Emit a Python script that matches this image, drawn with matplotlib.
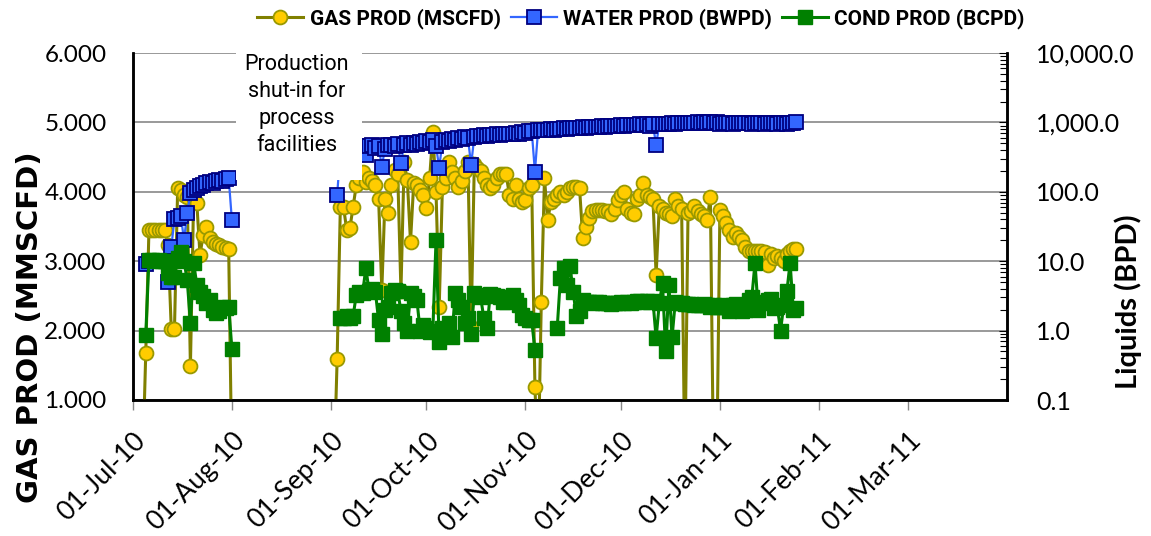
import numpy as np
import pandas as pd
import matplotlib
matplotlib.use("Agg")
import matplotlib.pyplot as plt
import matplotlib.dates as mdates
from matplotlib.lines import Line2D
from matplotlib.patches import Rectangle
from matplotlib.ticker import FuncFormatter, FixedLocator, LogLocator, NullFormatter

# --- data (daily values) ---
# first production period, July 2010
gas_start_1 = "2010-07-04"
gas_1 = [0, 1.68, 3.45, 3.45, 3.45, 3.45, 3.45, 3.45, 3.23, 2.02, 2.02, 4.05, 4.02,
         3.95, 3.92, 1.49, 3.9, 3.84, 3.09, 3.38, 3.5, 3.33, 3.28, 3.25, 3.23, 3.2,
         3.19, 3.17, 0]
water_start_1 = "2010-07-05"
water_1 = [9, 10, 10, 10, 10, 10, 10, 5, 16, 40, 42, 45, 20, 50, 95, 105, 115, 120,
           125, 135, 140, 135, 145, 150, 145, 155, 158, 39]
cond_start_1 = "2010-07-05"
cond_1 = [0.87, 10.5, 10.5, 10, 10.5, 10, 10, 6.8, 6, 6, 11, 13.5, 10, 5.3, 1.3, 9.5,
          4.6, 3.6, 3.1, 2.5, 2.8, 2.0, 1.8, 1.9, 2.2, 2.1, 2.2, 0.55]

# second production period, Sep 2010 - Jan 2011
gas_start_2 = "2010-09-02"
gas_2 = [0, 1.59, 3.78, 3.78, 3.45, 3.48, 3.78, 4.1, 4.2, 4.29, 4.14, 4.2, 4.15, 4.1,
         3.9, 2.58, 3.9, 3.69, 4.1, 4.31, 4.25, 2.57, 4.43, 4.17, 3.28, 4.12, 4.1,
         4.03, 3.95, 3.77, 4.2, 4.86, 4.0, 2.34, 4.07, 4.2, 4.43, 4.29, 4.2, 4.07,
         4.15, 4.3, 4.43, 2.05, 4.4, 4.35, 4.3, 4.2, 4.1, 4.05, 4.1, 4.2, 4.25, 4.25,
         4.25, 3.95, 3.9, 4.1, 3.9, 3.85, 3.88, 4.05, 4.1, 1.19, 0, 2.41, 4.2, 3.59,
         3.85, 3.9, 3.95, 4.0, 3.95, 4.0, 4.05, 4.07, 4.07, 4.05, 3.33, 3.5, 3.62,
         3.72, 3.74, 3.74, 3.74, 3.73, 3.72, 3.68, 3.75, 3.88, 3.95, 4.0, 3.75, 3.7,
         3.68, 3.9, 3.95, 4.13, 3.95, 3.92, 3.9, 2.8, 3.8, 3.75, 3.7, 3.68, 3.65, 3.9,
         3.8, 3.75, 0, 3.7, 3.72, 3.8, 3.72, 3.68, 3.65, 3.6, 3.93, 0, 0, 3.74, 3.65,
         3.55, 3.45, 3.35, 3.4, 3.35, 3.3, 3.2, 3.15, 3.15, 3.15, 3.15, 3.15, 3.13,
         2.95, 3.1, 3.05, 3.07, 3.05, 3.0, 3.1, 3.15, 3.18, 3.17]
water_start_2 = "2010-09-03"
water_2 = [90, 380, 420, 400, 430, 420, 440, 430, 450, 340, 450, 470, 430, 460, 230,
           420, 470, 480, 450, 490, 260, 470, 500, 480, 510, 490, 520, 500, 540, 520,
           550, 460, 220, 530, 560, 540, 580, 560, 600, 580, 610, 590, 245, 620, 640,
           630, 650, 640, 660, 650, 670, 660, 680, 670, 690, 680, 700, 690, 720, 710,
           740, 760, 195, 780, 770, 790, 780, 800, 790, 810, 800, 820, 810, 830, 820,
           840, 830, 850, 840, 860, 850, 870, 860, 880, 870, 890, 880, 900, 890, 910,
           900, 920, 910, 930, 920, 940, 930, 950, 900, 940, 470, 950, 940, 960, 950,
           970, 960, 980, 970, 990, 970, 990, 980, 1000, 990, 1000, 980, 1000, 990,
           1000, 960, 980, 970, 990, 960, 980, 970, 990, 970, 990, 960, 980, 970, 990,
           960, 980, 970, 990, 960, 980, 990, 960, 980, 990, 1000]
cond_start_2 = "2010-09-04"
cond_2 = [1.5, 1.5, 1.6, 1.5, 1.6, 3.3, 3.6, 3.5, 8.0, 3.7, 4.0, 3.6, 1.4, 0.9, 2.0,
          2.2, 3.5, 3.8, 3.7, 1.9, 1.3, 1.0, 3.5, 3.2, 2.8, 1.0, 1.2, 1.1, 0.95, 1.0,
          20, 0.68, 1.1, 1.0, 1.3, 0.8, 3.5, 2.8, 2.2, 1.3, 1.5, 0.9, 3.5, 3.3, 3.0,
          1.5, 1.1, 3.4, 3.3, 3.1, 3.0, 2.6, 2.6, 3.0, 3.3, 2.8, 2.3, 1.7, 1.5, 1.4,
          1.4, 0.52, None, None, None, None, None, None, 1.1, 5.8, 8.0, 4.5, 8.5, 3.6,
          1.6, 1.9, 2.8, 2.6, 2.6, 2.5, 2.6, 2.6, 2.5, 2.5, 2.5, 2.4, 2.5, 2.5, 2.6,
          2.5, 2.6, 2.5, 2.6, 2.7, 2.7, 2.6, 2.7, 2.6, 2.7, 0.78, 2.5, 4.8, 0.5, 4.5,
          0.8, 2.6, 2.5, 2.5, 2.4, 2.4, 2.4, 2.3, 2.3, 2.3, 2.4, 2.3, 2.2, 2.3, 2.2,
          2.2, 2.3, 2.2, 1.9, 2.3, 2.4, 2.3, 1.9, 2.0, 2.8, 3.0, 9.5, 2.0, 2.5, 2.6,
          2.8, 2.9, 2.1, 2.2, 1.0, 2.3, 3.7, 9.5, 2.0, 2.1]

month_ticks = pd.date_range("2010-07-01", "2011-03-01", freq="MS")
gas_ticks = [1, 2, 3, 4, 5, 6]
liq_ticks = [0.1, 1, 10, 100, 1000, 10000]


def daily(start, values):
    dates = pd.date_range(start, periods=len(values), freq="D")
    vals = np.array([np.nan if v is None else v for v in values], dtype=float)
    return dates, vals


# styles
gas_style = dict(color="#808000", lw=2.2, marker="o", ms=10, mfc="#FFCC00",
                 mec="#999900", mew=1.3)
water_style = dict(color="#3366FF", lw=1.6, marker="s", ms=9.5, mfc="#3366FF",
                   mec="#000080", mew=1.3)
cond_style = dict(color="#008000", lw=2.2, marker="s", ms=9.5, mfc="#008000",
                  mec="#008000", mew=1.0)

tick_font = "Lato"

fig = plt.figure(figsize=(11.51, 5.36), dpi=100)
ax = fig.add_axes([133 / 1151, 1 - 400 / 536, (1007 - 133) / 1151, (400 - 53) / 536])
ax2 = ax.twinx()

for start, vals in [(gas_start_1, gas_1), (gas_start_2, gas_2)]:
    d, v = daily(start, vals)
    ax.plot(d, v, **gas_style, zorder=3)

for start, vals in [(water_start_1, water_1), (water_start_2, water_2)]:
    d, v = daily(start, vals)
    ax2.plot(d, v, **water_style, zorder=3)

for start, vals in [(cond_start_1, cond_1), (cond_start_2, cond_2)]:
    d, v = daily(start, vals)
    ax2.plot(d, v, **cond_style, zorder=4)

# left axis
ax.set_ylim(1, 6)
ax.set_yticks(gas_ticks)
ax.yaxis.set_major_formatter(FuncFormatter(lambda v, p: f"{v:.3f}"))
ax.grid(axis="y", color="#999999", lw=1.4)
ax.set_axisbelow(True)
ax.set_xlim(pd.Timestamp("2010-07-01"), pd.Timestamp("2011-04-01"))
ax.set_xticks(month_ticks)
ax.xaxis.set_major_formatter(mdates.DateFormatter("%d-%b-%y"))
ax.tick_params(axis="y", length=0, pad=19, labelsize=17.5)
ax.tick_params(axis="x", length=7, width=1, color="#888888", pad=13, labelsize=19)
for lab in ax.get_xticklabels():
    lab.set_rotation(45)
    lab.set_ha("right")
    lab.set_va("top")
    lab.set_rotation_mode("anchor")
for lab in ax.get_xticklabels() + ax.get_yticklabels():
    lab.set_family(tick_font)

# right axis (log)
ax2.set_yscale("log")
ax2.set_ylim(0.1, 10000)
ax2.yaxis.set_major_locator(FixedLocator(liq_ticks))
ax2.yaxis.set_minor_locator(LogLocator(base=10, subs=np.arange(2, 10)))
ax2.yaxis.set_minor_formatter(NullFormatter())
ax2.yaxis.set_major_formatter(FuncFormatter(lambda v, p: f"{v:,.1f}"))
ax2.tick_params(axis="y", which="major", direction="in", length=6, pad=21, labelsize=18)
ax2.tick_params(axis="y", which="minor", direction="in", length=5, width=0.8)
for lab in ax2.get_yticklabels():
    lab.set_family(tick_font)

for a in (ax, ax2):
    a.spines["top"].set_visible(False)
    for s in ("left", "right", "bottom"):
        a.spines[s].set_color("black")
        a.spines[s].set_linewidth(1.8)

# axis titles
fig.text(30 / 1151, 1 - 327 / 536, "GAS PROD (MMSCFD)", rotation=90, ha="center",
         va="center", fontsize=21, fontweight="bold", family="DejaVu Sans")
fig.text(1128 / 1151, 1 - 302 / 536, "Liquids (BPD)", rotation=90, ha="center",
         va="center", fontsize=21, fontweight="bold", family=tick_font)

# shut-in note, white box on top of the data
fig.patches.append(Rectangle((236 / 1151, 1 - 180 / 536), 126 / 1151, 135 / 536,
                             transform=fig.transFigure, facecolor="white",
                             edgecolor="none", zorder=5))
fig.text(297 / 1151, 1 - 105 / 536, "Production\nshut-in for\nprocess\nfacilities",
         ha="center", va="center", fontsize=15.5, linespacing=1.38,
         family="Roboto", fontstretch="condensed", zorder=6)

# legend
handles = [
    Line2D([], [], **gas_style),
    Line2D([], [], **water_style),
    Line2D([], [], **cond_style),
]
labels = ["GAS PROD (MSCFD)", "WATER PROD (BWPD)", "COND PROD (BCPD)"]
fig.legend(handles, labels, loc="center", bbox_to_anchor=(0.557, 0.965), ncol=3,
           frameon=False, handlelength=2.2, handletextpad=0.3, columnspacing=0.5,
           prop=dict(family="Roboto", weight="bold", size=15))

fig.savefig("out.png", dpi=100)
